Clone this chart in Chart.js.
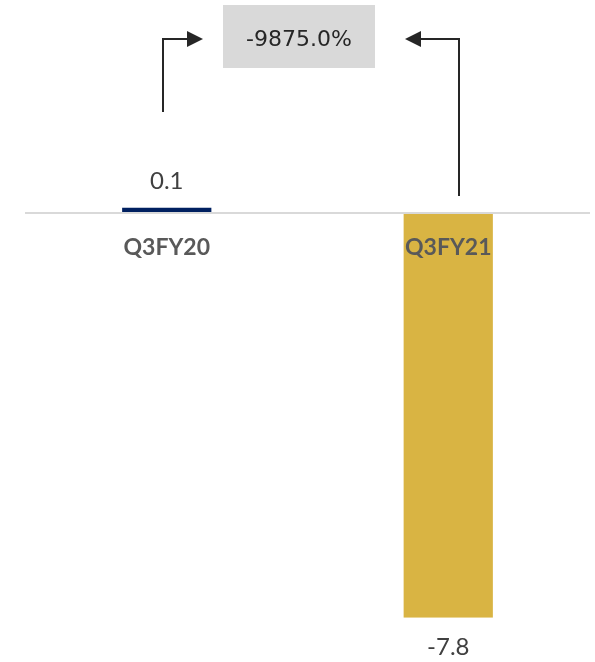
<!DOCTYPE html>
<html>
<head>
<meta charset="utf-8">
<script src="https://cdn.jsdelivr.net/npm/chart.js@4/dist/chart.umd.min.js"></script>
<style>
  html, body { margin: 0; padding: 0; background: #fff; }
  #wrap { width: 595px; height: 662px; }
</style>
</head>
<body>
<div id="wrap"><canvas id="chart"></canvas></div>
<script>
const quarters = ['Q3FY20', 'Q3FY21'];
const values = [0.1, -7.8];
const barColors = ['#002060', '#d9b443'];
const changeLabel = '-9875.0%';

// value labels above positive bars, below negative ones
const valueLabels = {
  id: 'valueLabels',
  afterDatasetsDraw(chart) {
    const ctx = chart.ctx;
    const meta = chart.getDatasetMeta(0);
    ctx.save();
    ctx.font = '24px Lato';
    ctx.fillStyle = '#404040';
    ctx.textAlign = 'center';
    ctx.textBaseline = 'middle';
    meta.data.forEach((bar, i) => {
      const v = values[i];
      const y = v >= 0 ? bar.y - 26 : bar.y + 30;
      ctx.fillText(v.toFixed(1), bar.x, y);
    });
    ctx.restore();
  }
};

// elbow arrows from both bars into the change box
const changeArrows = {
  id: 'changeArrows',
  afterDraw(chart) {
    const ctx = chart.ctx;
    const bars = chart.getDatasetMeta(0).data;
    const topY = 39;

    ctx.save();
    // box with percent change
    ctx.fillStyle = '#d9d9d9';
    ctx.fillRect(223, 5, 152, 63);
    ctx.fillStyle = '#262626';
    ctx.font = '22px "DejaVu Sans"';
    ctx.textAlign = 'center';
    ctx.textBaseline = 'middle';
    ctx.fillText(changeLabel, 299, 40);

    ctx.strokeStyle = '#262626';
    ctx.lineWidth = 2;

    const arrow = (x, yStart, tipX) => {
      const dir = Math.sign(tipX - x);
      const headBase = tipX - dir * 16;
      ctx.beginPath();
      ctx.moveTo(x, yStart);
      ctx.lineTo(x, topY);
      ctx.lineTo(headBase, topY);
      ctx.stroke();
      ctx.beginPath();
      ctx.moveTo(tipX, topY);
      ctx.lineTo(headBase, topY - 8);
      ctx.lineTo(headBase, topY + 8);
      ctx.closePath();
      ctx.fill();
    };

    arrow(Math.round(bars[0].x) - 4, 112, 203);
    arrow(Math.round(bars[1].x) + 11, 196, 405);
    ctx.restore();
  }
};

new Chart(document.getElementById('chart'), {
  type: 'bar',
  data: {
    labels: quarters,
    datasets: [{
      data: values,
      backgroundColor: barColors,
      categoryPercentage: 1,
      barPercentage: 0.317
    }]
  },
  options: {
    animation: false,
    responsive: true,
    maintainAspectRatio: false,
    layout: { padding: { left: 26, right: 6, top: 207.5, bottom: 44.3 } },
    plugins: {
      legend: { display: false },
      tooltip: { enabled: false }
    },
    scales: {
      x: {
        position: { y: 0 },
        grid: { display: false, drawTicks: false },
        border: { color: '#d9d9d9', width: 2, z: 1 },
        ticks: {
          z: 1,
          padding: 21,
          color: '#595959',
          font: { family: 'Lato', size: 23, weight: 'bold' }
        }
      },
      y: {
        display: false,
        min: -7.8,
        max: 0.1
      }
    }
  },
  plugins: [valueLabels, changeArrows]
});
</script>
</body>
</html>
